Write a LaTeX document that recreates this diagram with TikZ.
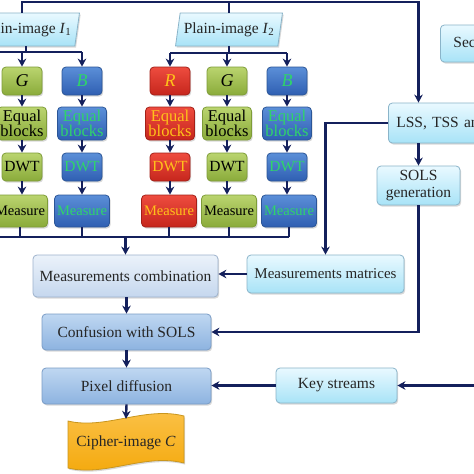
\documentclass[tikz,border=0pt]{standalone}
\usepackage{fontspec}
\setmainfont{Liberation Serif}
\usetikzlibrary{arrows.meta,shapes.geometric,shadows}
\definecolor{navy}{HTML}{14205C}
\definecolor{gtop}{HTML}{BAD46F}
\definecolor{gbot}{HTML}{8AAB3A}
\definecolor{gdraw}{HTML}{7E9C38}
\definecolor{btop}{HTML}{5B8FD8}
\definecolor{bbot}{HTML}{2F5FB2}
\definecolor{bdraw}{HTML}{2B5597}
\definecolor{btext}{HTML}{2FD46A}
\definecolor{rtop}{HTML}{EE4C3F}
\definecolor{rbot}{HTML}{C6261C}
\definecolor{rdraw}{HTML}{A32018}
\definecolor{rtext}{HTML}{FFC21A}
\definecolor{ctop}{HTML}{E9F9FF}
\definecolor{cbot}{HTML}{A8E3F7}
\definecolor{cdraw}{HTML}{8AB4C9}
\definecolor{ltop}{HTML}{EBF2FA}
\definecolor{lbot}{HTML}{C5D7EE}
\definecolor{ldraw}{HTML}{9DB2CC}
\definecolor{mtop}{HTML}{BFD7F1}
\definecolor{mbot}{HTML}{8DB3E0}
\definecolor{mdraw}{HTML}{7A9CC6}
\definecolor{otop}{HTML}{FBC24A}
\definecolor{obot}{HTML}{F4A80A}
\definecolor{odraw}{HTML}{C9961E}
\tikzset{
  ln/.style={draw=navy, line width=2.4pt},
  arr/.style={ln, -{Stealth[length=8pt,width=8.5pt]}},
  shad/.style={drop shadow={shadow xshift=1.2pt,shadow yshift=-1.6pt,opacity=.3}},
  base/.style={rounded corners=4pt, inner sep=0pt, align=center, line width=0.8pt, shad,
    font=\fontsize{15.5}{15}\selectfont},
  gbox/.style={base, draw=gdraw, top color=gtop, bottom color=gbot, text=black},
  bbox/.style={base, draw=bdraw, top color=btop, bottom color=bbot, text=btext},
  rbox/.style={base, draw=rdraw, top color=rtop, bottom color=rbot, text=rtext},
  cbox/.style={base, draw=cdraw, top color=ctop, bottom color=cbot, text=black!85},
  lbox/.style={base, draw=ldraw, top color=ltop, bottom color=lbot, text=black!85},
  mbox/.style={base, draw=mdraw, top color=mtop, bottom color=mbot, text=black!85},
  lett/.style={minimum width=40pt, minimum height=28pt, font=\fontsize{18}{18}\selectfont},
  eqb/.style={minimum width=49pt, minimum height=33pt, font=\fontsize{16.5}{15.5}\selectfont},
  dwtb/.style={minimum width=40pt, minimum height=28pt},
  meas/.style={minimum width=55pt, minimum height=32pt, font=\fontsize{14.5}{15}\selectfont},
  para/.style={trapezium, trapezium left angle=73, trapezium right angle=107,
    trapezium stretches=true, minimum width=108pt, minimum height=33pt, inner sep=0pt,
    draw=cdraw, line width=0.8pt, top color=ctop, bottom color=cbot, shad,
    font=\fontsize{15.5}{15}\selectfont, text=black!85}
}
\begin{document}
\begin{tikzpicture}[x=1pt,y=-1pt]
\useasboundingbox (0,0) rectangle (474,474);
\clip (0,0) rectangle (474,474);
\fill[white] (0,0) rectangle (474,474);

% plain images
\node[para] (I1) at (26,29.5) {Plain-image \textit{I}\textsubscript{1}};
\node[para] (I2) at (229,29.5) {Plain-image \textit{I}\textsubscript{2}};

% colour channels
\node[gbox,lett] (g1) at (22,81) {\textit{G}};
\node[bbox,lett] (b1) at (82,81) {\textit{B}};
\node[rbox,lett] (r2) at (170,81) {\textit{R}};
\node[gbox,lett] (g2) at (227,81) {\textit{G}};
\node[bbox,lett] (b2) at (287,81) {\textit{B}};

\node[gbox,eqb] (eg1) at (22,123.5) {Equal\\blocks};
\node[bbox,eqb] (eb1) at (82,123.5) {Equal\\blocks};
\node[rbox,eqb] (er2) at (170,123.5) {Equal\\blocks};
\node[gbox,eqb] (eg2) at (227,123.5) {Equal\\blocks};
\node[bbox,eqb] (eb2) at (287,123.5) {Equal\\blocks};

\node[gbox,dwtb] (dg1) at (22,167) {DWT};
\node[bbox,dwtb] (db1) at (82,167) {DWT};
\node[rbox,dwtb] (dr2) at (170,167) {DWT};
\node[gbox,dwtb] (dg2) at (227,167) {DWT};
\node[bbox,dwtb] (db2) at (287,167) {DWT};

\node[gbox,meas] (mg1) at (20,211) {Measure};
\node[bbox,meas] (mb1) at (82,211) {Measure};
\node[rbox,meas] (mr2) at (169,211) {Measure};
\node[gbox,meas] (mg2) at (229,211) {Measure};
\node[bbox,meas] (mb2) at (289,211) {Measure};

% main chain
\node[lbox,minimum width=185pt,minimum height=42pt] (comb) at (125.5,276) {Measurements combination};
\node[mbox,minimum width=169pt,minimum height=36pt] (conf) at (126.5,332) {Confusion with SOLS};
\node[mbox,minimum width=169pt,minimum height=36pt] (pix) at (126.5,386) {Pixel diffusion};

% cipher image
\path[draw=odraw, line width=0.8pt, top color=otop, bottom color=obot, shad]
  (68,421) .. controls (105,430) and (145,406) .. (184,416) -- (184,463)
  .. controls (145,453) and (105,477) .. (68,468) -- cycle;
\node[inner sep=0pt, minimum width=116pt, minimum height=47pt,
  font=\fontsize{15.5}{15}\selectfont, text=black!85] (cipher) at (126,442.5) {Cipher-image \textit{C}};

% right side
\node[cbox, anchor=west, text width=100pt, inner xsep=13pt, minimum height=37pt, align=left] (sec) at (440,43.5) {Secret key};
\node[cbox, anchor=west, text width=134pt, inner xsep=8pt, minimum height=40pt, align=left] (lss) at (388,123) {LSS, TSS and};
\node[cbox, minimum width=83pt, minimum height=39pt, font=\fontsize{15.5}{17}\selectfont] (sols) at (418.5,185.5) {SOLS\\generation};
\node[cbox, minimum width=157pt, minimum height=38pt, font=\fontsize{15}{15}\selectfont] (matr) at (325.5,274) {Measurements matrices};
\node[cbox, minimum width=121pt, minimum height=35pt] (keys) at (336.5,385.5) {Key streams};

% connectors: distribution
\coordinate (bus1) at (0,52);
\coordinate (bus2) at (0,53);
\coordinate (bus3) at (0,237);
\coordinate (topr) at (418.5,2);
\coordinate (kin) at (480,385.5);

\draw[ln] (I1.south) -- (I1.south |- bus1);
\draw[ln] (bus1) -- (b1.north |- bus1);
\draw[arr] (g1.north |- bus1) -- (g1.north);
\draw[arr] (b1.north |- bus1) -- (b1.north);

\draw[ln] (I2.south) -- (I2.south |- bus2);
\draw[ln] (r2.north |- bus2) -- (b2.north |- bus2);
\draw[arr] (r2.north |- bus2) -- (r2.north);
\draw[arr] (g2.north |- bus2) -- (g2.north);
\draw[arr] (b2.north |- bus2) -- (b2.north);

\foreach \c in {g1,b1,r2,g2,b2}{
  \draw[arr] (\c.south) -- (e\c.north);
  \draw[arr] (e\c.south) -- (d\c.north);
  \draw[arr] (d\c.south) -- (d\c.south |- m\c.north);
  \draw[ln] (m\c.south) -- (m\c.south |- bus3);
}
\draw[ln] (bus3) -- (mb2.south |- bus3);
\draw[arr] (comb.north |- bus3) -- (comb.north);

% top bus
\draw[arr] (g1.north |- I1.north) |- (topr) -- (sols.north |- lss.north);
\draw[ln] (I2.north) -- (I2.north |- topr);

% right connectors
\draw[arr] (sols.north |- lss.south) -- (sols.north);
\draw[arr] (lss.west) -| (matr.north);
\draw[arr] (matr.west) -- (matr.west -| comb.east);
\draw[arr] (sols.south) |- (conf.east);
\draw[arr] (keys.west) -- (keys.west -| pix.east);
\draw[arr] (kin) -- (keys.east);

% main chain arrows
\draw[arr] (conf.north |- comb.south) -- (conf.north);
\draw[arr] (conf.south) -- (pix.north);
\draw[arr] (pix.south) -- (cipher.north);
\end{tikzpicture}
\end{document}
